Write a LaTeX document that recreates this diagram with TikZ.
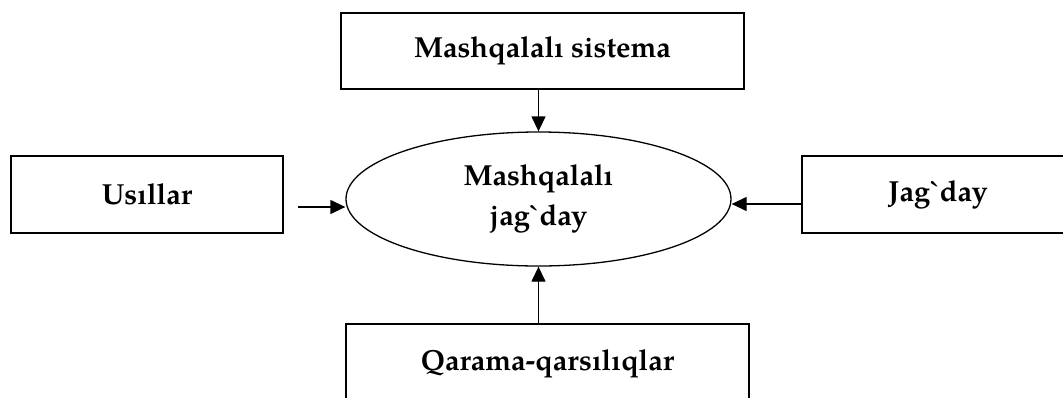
\documentclass[tikz,border=0pt]{standalone}
\usepackage{fontspec}
\setmainfont{TeX Gyre Pagella}[Ligatures=TeXOff]
\usetikzlibrary{arrows.meta,shapes.geometric}
\tikzset{
  box/.style={draw, line width=1.7pt, inner sep=0pt, font=\bfseries\fontsize{29}{35}\selectfont},
  oval/.style={draw, ellipse, line width=1.3pt, inner sep=0pt, align=center, font=\bfseries\fontsize{29}{40}\selectfont},
  arr/.style={line width=1.3pt, -{Triangle[length=15pt,width=14pt]}}
}
\begin{document}
\begin{tikzpicture}[x=1pt,y=-1pt]
\clip (0,0) rectangle (1063,397);
\fill[white] (0,0) rectangle (1063,397);
\node[box, minimum width=403pt, minimum height=76pt] (top) at (542.5,51) {Mashqalalı sistema};
\node[box, minimum width=272pt, minimum height=77pt] (lb) at (147,194.5) {Usıllar};
\node[box, minimum width=272pt, minimum height=77pt] (rb) at (938,194.5) {Jag`day};
\node[box, minimum width=403pt, minimum height=80pt] (bot) at (547.5,364) {Qarama-qarsılıqlar};
\node[oval, minimum width=385pt, minimum height=134pt] (ell) at (538.5,199) {Mashqalalı\\jag`day};
\coordinate (lt) at (298,207);
\coordinate (rt) at (802,204);
\draw[arr] (ell.north |- top.south) -- (ell.north);
\draw[arr] (ell.south |- bot.north) -- (ell.south);
\draw[arr] (lt) -- (ell.west |- lt);
\draw[arr] (rt) -- (ell.east |- rt);
\end{tikzpicture}
\end{document}
